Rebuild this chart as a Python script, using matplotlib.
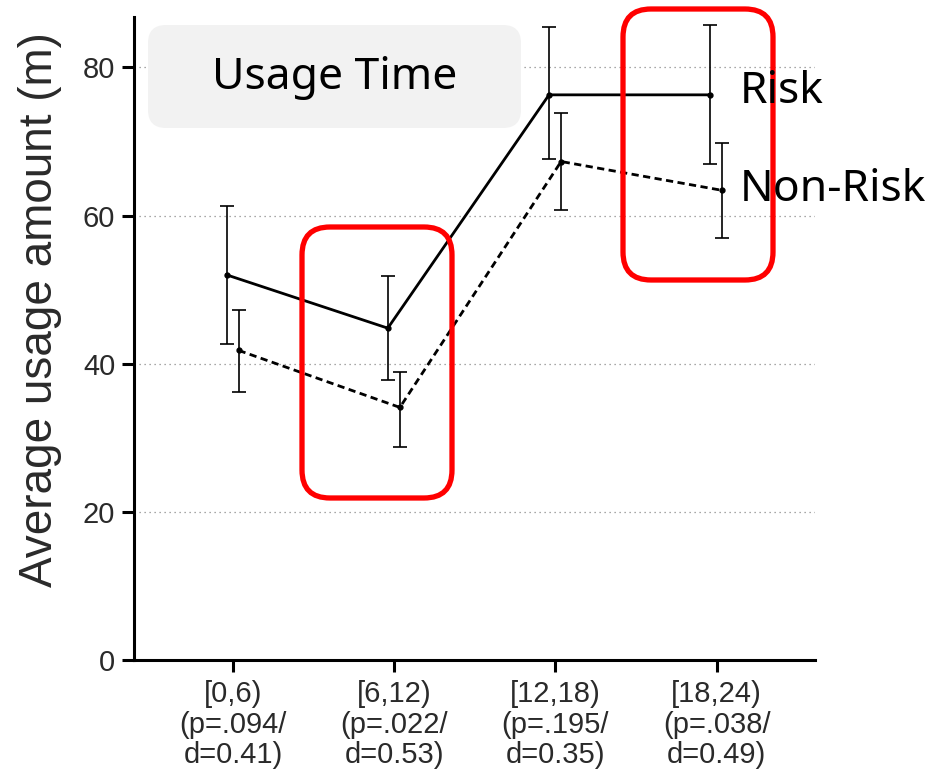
import numpy as np
import matplotlib
matplotlib.use('Agg')
import matplotlib.pyplot as plt
from matplotlib import font_manager
from matplotlib.patches import FancyBboxPatch

# Dados
categorias = ['[0,6)\n(p=.094/\nd=0.41)', '[6,12)\n(p=.022/\nd=0.53)',
              '[12,18)\n(p=.195/\nd=0.35)', '[18,24)\n(p=.038/\nd=0.49)']
risk_media = [52.0, 44.8, 76.3, 76.3]
risk_inf = [42.6, 37.8, 67.6, 67.0]
risk_sup = [61.3, 51.8, 85.5, 85.7]
nonrisk_media = [41.8, 34.1, 67.3, 63.4]
nonrisk_inf = [36.2, 28.7, 60.8, 57.0]
nonrisk_sup = [47.2, 38.9, 73.9, 69.8]
yticks = [0, 20, 40, 60, 80]

# Fonte estreita para os rótulos (se existir)
nomes = {f.name for f in font_manager.fontManager.ttflist}
fonte_ticks = 'Liberation Sans Narrow' if 'Liberation Sans Narrow' in nomes else 'Liberation Sans'

fig = plt.figure(figsize=(9.26, 7.76), dpi=100)
ax = fig.add_axes([0.1447, 0.1495, 0.7355, 0.8285])

base = np.arange(len(categorias))
x_risk = base - 0.04
x_non = base + 0.035

rm = np.array(risk_media)
nm = np.array(nonrisk_media)
err_r = [rm - np.array(risk_inf), np.array(risk_sup) - rm]
err_n = [nm - np.array(nonrisk_inf), np.array(nonrisk_sup) - nm]

ax.errorbar(x_risk, rm, yerr=err_r, color='black', lw=2.0, marker='o', ms=3.5,
            ecolor='black', elinewidth=1.2, capsize=5, capthick=1.2, zorder=4)
ax.errorbar(x_non, nm, yerr=err_n, color='black', lw=2.0, marker='o', ms=3.5,
            linestyle=(0, (2.6, 1.6)), ecolor='black', elinewidth=1.2, capsize=5,
            capthick=1.2, zorder=4)

# Eixos
ax.set_xlim(-0.614, 3.61)
ax.set_ylim(0, 86.8)
ax.set_xticks(base)
ax.set_xticklabels(categorias, family=fonte_ticks, fontsize=21, color='#2a2a2a',
                   linespacing=1.12)
ax.set_yticks(yticks)
ax.set_yticklabels([str(v) for v in yticks], family=fonte_ticks, fontsize=21,
                   color='#2a2a2a')
ax.tick_params(axis='both', length=8.5, width=2.2, direction='out', pad=5)
ax.tick_params(axis='x', pad=6)
for s in ['top', 'right']:
    ax.spines[s].set_visible(False)
for s in ['left', 'bottom']:
    ax.spines[s].set_linewidth(2.2)

for v in yticks[1:]:
    ax.axhline(v, color='#8a8a8a', lw=0.9, linestyle=(0, (1, 3)), zorder=1)

fig.text(40 / 926, 1 - 310 / 776, 'Average usage amount (m)', rotation=90,
         ha='center', va='center', family='Liberation Sans', fontsize=33,
         color='#2a2a2a')

# Caixa do título e destaques
tr = fig.dpi_scale_trans
fig.patches.append(FancyBboxPatch((1.48, 6.48), 3.73, 1.03,
                                  boxstyle='round,pad=0,rounding_size=0.18',
                                  transform=tr, facecolor='#f2f2f2',
                                  edgecolor='none', zorder=5))
fig.text(3.35, 6.98, 'Usage Time', transform=tr, ha='center', va='center',
         family='Noto Sans', fontsize=32, zorder=6)
for (bx, by) in [(3.02, 2.78), (6.23, 4.96)]:
    fig.patches.append(FancyBboxPatch((bx, by), 1.50, 2.71,
                                      boxstyle='round,pad=0,rounding_size=0.28',
                                      transform=tr, facecolor='none',
                                      edgecolor='#ff0000', lw=3.8, zorder=7))

# Rótulos das séries (por cima das caixas vermelhas)
fig.text(7.40, 7.76 - 0.92, 'Risk', transform=tr, ha='left', va='center',
         family='Noto Sans', fontsize=32, zorder=8)
fig.text(7.40, 7.76 - 1.90, 'Non-Risk', transform=tr, ha='left', va='center',
         family='Noto Sans', fontsize=32, zorder=8)

fig.savefig('out.png', dpi=100)
